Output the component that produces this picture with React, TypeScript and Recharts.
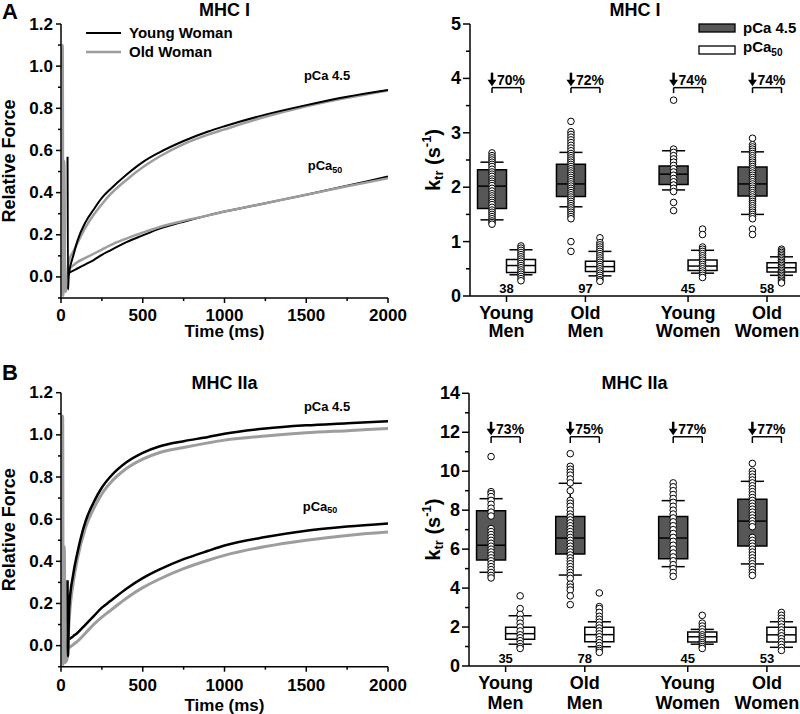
import React from "react";
import {
  ComposedChart,
  Line,
  Scatter,
  XAxis,
  YAxis,
  ReferenceArea,
  ReferenceLine,
  Legend,
} from "recharts";

const FONT = "'Liberation Sans', Arial, Helvetica, sans-serif";
const INK = "#000000";
const GREY = "#9d9d9d";
const BOX_FILL = "#575757";

// ── Force traces ──

const TRACE_T = [50, 75, 100, 150, 200, 250, 300, 400, 500, 600, 750, 900, 1000, 1250, 1500, 1750, 2000];

const A_YOUNG_45 = [0.02, 0.1, 0.17, 0.26, 0.32, 0.375, 0.415, 0.485, 0.545, 0.59, 0.645, 0.69, 0.715, 0.77, 0.815, 0.855, 0.887];
const A_OLD_45 = [0.08, 0.12, 0.16, 0.235, 0.295, 0.345, 0.39, 0.46, 0.52, 0.57, 0.63, 0.675, 0.7, 0.76, 0.81, 0.85, 0.885];
const A_YOUNG_50 = [0.02, 0.03, 0.04, 0.06, 0.08, 0.105, 0.125, 0.165, 0.197, 0.228, 0.262, 0.292, 0.31, 0.35, 0.39, 0.433, 0.476];
const A_OLD_50 = [0.04, 0.055, 0.07, 0.09, 0.11, 0.13, 0.15, 0.182, 0.21, 0.236, 0.266, 0.292, 0.31, 0.35, 0.39, 0.43, 0.468];

const B_YOUNG_45 = [0.18, 0.34, 0.44, 0.59, 0.68, 0.75, 0.8, 0.87, 0.915, 0.945, 0.97, 0.99, 1.005, 1.03, 1.045, 1.055, 1.065];
const B_OLD_45 = [0.12, 0.3, 0.41, 0.56, 0.65, 0.72, 0.77, 0.84, 0.885, 0.915, 0.94, 0.962, 0.975, 0.995, 1.01, 1.02, 1.03];
const B_YOUNG_50 = [0.03, 0.045, 0.06, 0.1, 0.14, 0.18, 0.21, 0.27, 0.32, 0.36, 0.41, 0.45, 0.475, 0.515, 0.545, 0.565, 0.58];
const B_OLD_50 = [-0.01, 0.005, 0.02, 0.06, 0.1, 0.135, 0.165, 0.225, 0.275, 0.315, 0.365, 0.405, 0.428, 0.47, 0.5, 0.523, 0.539];

// release/restretch artefacts at the start of each record
const A_YOUNG_SPIKE_T = [40, 43, 47];
const A_YOUNG_SPIKE = [0.57, -0.06, 0.0];
const A_OLD_SPIKE_T = [2, 10, 14, 20, 26, 36, 44];
const A_OLD_SPIKE = [0.99, 1.1, -0.09, 0.55, -0.07, -0.05, 0.06];
const B_YOUNG_SPIKE_T = [40, 43, 47];
const B_YOUNG_SPIKE = [0.31, -0.05, 0.1];
const B_OLD_SPIKE_T = [2, 10, 14, 20, 26, 38, 44];
const B_OLD_SPIKE = [1.0, 1.09, -0.09, 0.47, -0.08, -0.06, 0.03];

const TIME_TICKS = [0, 250, 500, 750, 1000, 1250, 1500, 1750, 2000];
const FORCE_TICKS = [-0.1, 0, 0.1, 0.2, 0.3, 0.4, 0.5, 0.6, 0.7, 0.8, 0.9, 1.0, 1.1, 1.2];

// ── ktr box plots ──

const GROUP_X = [1, 2, 3.3, 4.3];
const GROUP_LABELS = [["Young", "Men"], ["Old", "Men"], ["Young", "Women"], ["Old", "Women"]];

// [lower cap, q1, median, q3, upper cap]
const A_BOX_45 = [
  [1.4, 1.61, 2.02, 2.32, 2.46],
  [1.64, 1.83, 2.06, 2.42, 2.64],
  [1.95, 2.05, 2.24, 2.39, 2.67],
  [1.5, 1.84, 2.06, 2.37, 2.65],
];
const A_BOX_50 = [
  [0.39, 0.43, 0.56, 0.67, 0.85],
  [0.37, 0.45, 0.54, 0.64, 0.82],
  [0.42, 0.47, 0.55, 0.66, 0.84],
  [0.38, 0.44, 0.52, 0.61, 0.72],
];
const A_DOTS_45 = [
  [2.63, 2.58, 2.54, 2.5, 2.46, 2.42, 2.38, 2.33, 2.28, 2.24, 2.2, 2.15, 2.11, 2.07, 2.03, 1.98, 1.93, 1.88, 1.84, 1.8, 1.76, 1.72, 1.68, 1.63, 1.58, 1.54, 1.5, 1.46, 1.42, 1.38, 1.35, 1.32],
  [3.21, 3.02, 2.97, 2.92, 2.87, 2.82, 2.77, 2.72, 2.67, 2.62, 2.58, 2.54, 2.5, 2.46, 2.42, 2.38, 2.34, 2.3, 2.26, 2.22, 2.18, 2.14, 2.1, 2.06, 2.02, 1.98, 1.94, 1.9, 1.86, 1.82, 1.78, 1.74, 1.7, 1.66, 1.62, 1.58, 1.54, 1.5, 1.46, 1.42, 1.0, 0.82],
  [3.6, 2.7, 2.64, 2.58, 2.52, 2.46, 2.4, 2.34, 2.28, 2.22, 2.16, 2.1, 2.04, 1.98, 1.92, 1.72, 1.57],
  [2.9, 2.78, 2.74, 2.7, 2.66, 2.62, 2.58, 2.54, 2.5, 2.46, 2.42, 2.38, 2.34, 2.3, 2.26, 2.22, 2.18, 2.14, 2.1, 2.06, 2.02, 1.98, 1.94, 1.9, 1.86, 1.82, 1.78, 1.74, 1.7, 1.66, 1.62, 1.58, 1.54, 1.5, 1.46, 1.42, 1.23, 1.13],
];
const A_DOTS_50 = [
  [0.92, 0.88, 0.84, 0.8, 0.76, 0.72, 0.68, 0.64, 0.6, 0.56, 0.52, 0.48, 0.44, 0.4, 0.36, 0.32, 0.28],
  [1.07, 0.98, 0.94, 0.9, 0.86, 0.82, 0.78, 0.74, 0.7, 0.66, 0.62, 0.58, 0.54, 0.5, 0.46, 0.42, 0.38, 0.34, 0.3, 0.27],
  [1.23, 1.13, 0.9, 0.86, 0.82, 0.78, 0.74, 0.7, 0.66, 0.62, 0.58, 0.54, 0.5, 0.46, 0.42, 0.38, 0.34],
  [0.86, 0.83, 0.8, 0.77, 0.74, 0.71, 0.68, 0.65, 0.62, 0.59, 0.56, 0.53, 0.5, 0.47, 0.44, 0.41, 0.38, 0.35, 0.32, 0.29, 0.26, 0.24],
];
const A_N = ["38", "97", "45", "58"];
const A_DROP = ["70%", "72%", "74%", "74%"];

const B_BOX_45 = [
  [4.81, 5.44, 6.2, 7.97, 8.59],
  [4.67, 5.75, 6.57, 7.67, 9.38],
  [5.1, 5.51, 6.57, 7.67, 8.49],
  [5.24, 6.16, 7.44, 8.56, 9.48],
];
const B_BOX_50 = [
  [1.12, 1.37, 1.66, 1.99, 2.58],
  [0.99, 1.25, 1.61, 1.99, 2.27],
  [1.12, 1.23, 1.5, 1.75, 1.88],
  [0.96, 1.23, 1.6, 1.99, 2.27],
];
const B_DOTS_45 = [
  [10.75, 8.95, 8.85, 8.7, 8.5, 8.3, 8.1, 7.9, 7.7, 7.05, 6.9, 6.75, 6.6, 6.45, 6.3, 6.15, 6.0, 5.85, 5.7, 5.55, 5.4, 5.25, 5.1, 4.95, 4.8, 4.65, 4.52],
  [10.9, 10.25, 10.1, 9.95, 9.8, 9.6, 9.4, 9.0, 8.5, 8.35, 8.2, 8.0, 7.8, 7.65, 7.5, 7.35, 7.2, 7.05, 6.9, 6.75, 6.6, 6.45, 6.3, 6.15, 6.0, 5.85, 5.7, 5.55, 5.4, 5.25, 5.1, 4.95, 4.8, 4.65, 4.5, 4.2, 4.05, 3.9, 3.6, 3.15],
  [9.4, 9.2, 9.0, 8.8, 8.6, 8.4, 8.2, 8.0, 7.8, 7.6, 7.4, 7.2, 7.0, 6.8, 6.6, 6.4, 6.2, 6.0, 5.8, 5.6, 5.4, 5.2, 5.0, 4.8, 4.6],
  [10.4, 10.0, 9.85, 9.7, 9.55, 9.4, 9.25, 9.1, 8.95, 8.8, 8.65, 8.5, 8.35, 8.2, 8.05, 7.9, 7.75, 7.6, 7.45, 7.3, 7.15, 6.6, 6.45, 6.3, 6.15, 6.0, 5.85, 5.7, 5.55, 5.4, 5.25, 5.1, 4.95, 4.8, 4.65],
];
const B_DOTS_50 = [
  [3.6, 2.95, 2.65, 2.4, 2.2, 2.0, 1.8, 1.6, 1.45, 1.3, 1.15, 1.0, 0.9],
  [3.75, 3.05, 2.95, 2.75, 2.55, 2.4, 2.25, 2.1, 1.95, 1.8, 1.65, 1.5, 1.35, 1.2, 1.05, 0.9, 0.8, 0.7],
  [2.6, 2.2, 2.05, 1.9, 1.75, 1.6, 1.5, 1.4, 1.3, 1.2, 1.1, 1.0, 0.9],
  [2.75, 2.6, 2.45, 2.3, 2.15, 2.0, 1.85, 1.7, 1.55, 1.4, 1.25, 1.1, 0.95, 0.8],
];
const B_N = ["35", "78", "45", "53"];
const B_DROP = ["73%", "75%", "77%", "77%"];

const A_KTR_TICKS = [0, 0.5, 1, 1.5, 2, 2.5, 3, 3.5, 4, 4.5, 5];
const B_KTR_TICKS = [0, 1, 2, 3, 4, 5, 6, 7, 8, 9, 10, 11, 12, 13, 14];

// box geometry in x-axis units
const BOX_W = 0.367;
const HALF = BOX_W / 2;
const CAP = 0.146;
const GROUP_DOMAIN = [0.5376, 4.718];

const trace = (spikeT: number[], spikeV: number[], vals: number[]) => [
  ...spikeT.map((t, i) => ({ t, v: spikeV[i] })),
  ...TRACE_T.map((t, i) => ({ t, v: vals[i] })),
];

const dotsAt = (groups: number[][], off: number) =>
  groups.flatMap((vals, i) => vals.map((y) => ({ x: GROUP_X[i] + off, y })));

const bold = { fontFamily: FONT, fontWeight: "bold" as const, fill: INK };

// ── ticks and titles ──

function TimeTick({ x, y, payload, dy }: any) {
  const major = payload.value % 500 === 0;
  return (
    <g>
      <line x1={x} y1={y} x2={x} y2={y + (major ? 5 : 3)} stroke={INK} strokeWidth={1.5} />
      {major && (
        <text x={x} y={y + dy} textAnchor="middle" dominantBaseline="central" fontSize={17} {...bold}>
          {payload.value}
        </text>
      )}
    </g>
  );
}

function ForceTick({ x, y, payload }: any) {
  const k = Math.round(payload.value * 10);
  const major = k >= 0 && k % 2 === 0;
  return (
    <g>
      <line x1={x - (major ? 5 : 3)} y1={y} x2={x} y2={y} stroke={INK} strokeWidth={1.5} />
      {major && (
        <text x={x - 8} y={y} textAnchor="end" dominantBaseline="central" fontSize={17} {...bold}>
          {(k / 10).toFixed(1)}
        </text>
      )}
    </g>
  );
}

function KtrTick({ x, y, payload, every }: any) {
  const major = Math.abs(payload.value % every) < 1e-6;
  return (
    <g>
      <line x1={x - (major ? 7 : 4)} y1={y} x2={x} y2={y} stroke={INK} strokeWidth={1.5} />
      {major && (
        <text x={x - 9} y={y} textAnchor="end" dominantBaseline="central" fontSize={18} {...bold}>
          {payload.value}
        </text>
      )}
    </g>
  );
}

function GroupTick({ x, y, payload, dy1, dy2 }: any) {
  const i = GROUP_X.indexOf(payload.value);
  const lines = GROUP_LABELS[i] || ["", ""];
  return (
    <g>
      <line x1={x} y1={y} x2={x} y2={y + 6} stroke={INK} strokeWidth={1.5} />
      <text x={x} y={y + dy1} textAnchor="middle" dominantBaseline="central" fontSize={18} {...bold}>
        {lines[0]}
      </text>
      <text x={x} y={y + dy2} textAnchor="middle" dominantBaseline="central" fontSize={18} {...bold}>
        {lines[1]}
      </text>
    </g>
  );
}

function TimeTitle({ viewBox, dy }: any) {
  return (
    <text x={viewBox.x + viewBox.width / 2} y={viewBox.y + dy} textAnchor="middle" dominantBaseline="central" fontSize={17} {...bold}>
      Time (ms)
    </text>
  );
}

function ForceTitle({ viewBox }: any) {
  const x = viewBox.x + 9;
  const y = viewBox.y + viewBox.height / 2;
  return (
    <text x={x} y={y} transform={`rotate(-90, ${x}, ${y})`} textAnchor="middle" dominantBaseline="central" fontSize={18} {...bold}>
      Relative Force
    </text>
  );
}

function KtrTitle({ viewBox }: any) {
  const x = viewBox.x + 33;
  const y = viewBox.y + viewBox.height / 2;
  return (
    <text x={x} y={y} transform={`rotate(-90, ${x}, ${y})`} textAnchor="middle" dominantBaseline="central" fontSize={20} {...bold}>
      k
      <tspan fontSize={13} dy={5}>tr</tspan>
      <tspan dy={-5}> (s</tspan>
      <tspan fontSize={13} dy={-7}>-1</tspan>
      <tspan dy={7}>)</tspan>
    </text>
  );
}

// ── marks drawn through scatter shapes ──

const WhiteDot = (p: any) => <circle cx={p.cx} cy={p.cy} r={3.3} fill="#fff" stroke={INK} strokeWidth={1} />;

const DropNote = (p: any) => {
  const { cx, cy, payload } = p;
  return (
    <g>
      <line x1={cx} y1={cy - 15} x2={cx} y2={cy - 6} stroke={INK} strokeWidth={2.5} />
      <path d={`M${cx - 4.5},${cy - 8} L${cx + 4.5},${cy - 8} L${cx},${cy - 1.5} Z`} fill={INK} />
      <text x={cx + 5} y={cy - 7.5} dominantBaseline="central" fontSize={14} {...bold}>
        {payload.text}
      </text>
    </g>
  );
};

const CountNote = (p: any) => (
  <text x={p.cx} y={p.cy - 8} textAnchor="middle" dominantBaseline="central" fontSize={13} {...bold}>
    {p.payload.text}
  </text>
);

const TraceNote = (p: any) => (
  <text x={p.cx} y={p.cy} textAnchor="middle" dominantBaseline="central" fontSize={13} {...bold}>
    {p.payload.text}
    {p.payload.sub && (
      <tspan fontSize={9} dy={4}>
        {p.payload.sub}
      </tspan>
    )}
  </text>
);

// ── legends ──

function WomenLegend() {
  const row = (color: string, w: number, text: string) => (
    <div style={{ display: "flex", alignItems: "center", height: 18.4 }}>
      <svg width={35} height={6} style={{ marginRight: 8 }}>
        <line x1={0} y1={3} x2={35} y2={3} stroke={color} strokeWidth={w} />
      </svg>
      <span style={{ fontFamily: FONT, fontWeight: "bold", fontSize: 15, lineHeight: "18px" }}>{text}</span>
    </div>
  );
  return (
    <div>
      {row(INK, 2, "Young Woman")}
      {row(GREY, 2.5, "Old Woman")}
    </div>
  );
}

function PcaLegend() {
  const row = (fill: string, text: React.ReactNode) => (
    <div style={{ display: "flex", alignItems: "center", height: 22 }}>
      <svg width={38} height={10} style={{ marginRight: 7 }}>
        <rect x={1} y={1} width={36} height={8} fill={fill} stroke={INK} strokeWidth={1.3} />
      </svg>
      <span style={{ fontFamily: FONT, fontWeight: "bold", fontSize: 15, lineHeight: "18px" }}>{text}</span>
    </div>
  );
  return (
    <div>
      {row(BOX_FILL, "pCa 4.5")}
      {row("#fff", (
        <>
          pCa<sub style={{ fontSize: 10 }}>50</sub>
        </>
      ))}
    </div>
  );
}

// ── panels ──

const axisStyle = { stroke: INK, strokeWidth: 1.5 };

function TraceChart({ cfg }: any) {
  const W = 420;
  const { top, height, marginTop, axisHeight, tickDy, titleDy, title, titleY, young45, old45, young50, old50, notes, legend, width } = cfg;
  return (
    <div style={{ position: "absolute", left: 0, top, width: W, height }}>
      <ComposedChart width={W} height={height} margin={{ top: marginTop, right: 32, bottom: 0, left: 0 }}>
        <XAxis
          type="number"
          dataKey="t"
          domain={[0, 2000]}
          ticks={TIME_TICKS}
          interval={0}
          allowDataOverflow
          height={axisHeight}
          tickSize={0}
          tickMargin={0}
          axisLine={axisStyle}
          tick={(p: any) => <TimeTick {...p} dy={tickDy} />}
          label={{ content: (p: any) => <TimeTitle {...p} dy={titleDy} /> }}
        />
        <YAxis
          type="number"
          dataKey="v"
          domain={[-0.1, 1.2]}
          ticks={FORCE_TICKS}
          interval={0}
          allowDataOverflow
          width={61}
          tickSize={0}
          tickMargin={0}
          axisLine={axisStyle}
          tick={ForceTick}
          label={{ content: ForceTitle }}
        />
        {legend && (
          <Legend
            layout="vertical"
            align="center"
            verticalAlign="middle"
            content={() => <WomenLegend />}
            wrapperStyle={{ left: 86, top: 24, width: 200, height: 40 }}
          />
        )}
        <Line data={young50} dataKey="v" type="monotone" stroke={INK} strokeWidth={width} dot={false} activeDot={false} isAnimationActive={false} />
        <Line data={old50} dataKey="v" type="monotone" stroke={GREY} strokeWidth={width + 0.5} dot={false} activeDot={false} isAnimationActive={false} />
        <Line data={old45} dataKey="v" type="monotone" stroke={GREY} strokeWidth={width + 0.5} dot={false} activeDot={false} isAnimationActive={false} />
        <Line data={young45} dataKey="v" type="monotone" stroke={INK} strokeWidth={width} dot={false} activeDot={false} isAnimationActive={false} />
        <Scatter data={notes} shape={TraceNote} isAnimationActive={false} />
      </ComposedChart>
      <div
        style={{
          position: "absolute",
          left: 61,
          width: 327,
          top: titleY - 11,
          textAlign: "center",
          fontFamily: FONT,
          fontWeight: "bold",
          fontSize: 18,
          lineHeight: "22px",
        }}
      >
        {title}
      </div>
    </div>
  );
}

function KtrChart({ cfg }: any) {
  const W = 400;
  const { top, height, marginTop, axisHeight, yWidth, yMax, ticks, every, box45, box50, dots45, dots50, ns, drops, bracketTop, bracketLeg, title, titleY, legend, dy1, dy2 } = cfg;

  const boxes = [
    ...box45.map((b: number[], i: number) => ({ b, c: GROUP_X[i] - HALF, fill: BOX_FILL })),
    ...box50.map((b: number[], i: number) => ({ b, c: GROUP_X[i] + HALF, fill: "#fff" })),
  ];
  const seg = (x1: number, y1: number, x2: number, y2: number, key: string) => (
    <ReferenceLine key={key} segment={[{ x: x1, y: y1 }, { x: x2, y: y2 }]} stroke={INK} strokeWidth={1.5} />
  );

  return (
    <div style={{ position: "absolute", left: 400, top, width: W, height }}>
      <ComposedChart width={W} height={height} margin={{ top: marginTop, right: 0, bottom: 0, left: 0 }}>
        <XAxis
          type="number"
          dataKey="x"
          domain={GROUP_DOMAIN}
          ticks={GROUP_X}
          interval={0}
          allowDataOverflow
          height={axisHeight}
          tickSize={0}
          tickMargin={0}
          axisLine={axisStyle}
          tick={(p: any) => <GroupTick {...p} dy1={dy1} dy2={dy2} />}
        />
        <YAxis
          type="number"
          dataKey="y"
          domain={[0, yMax]}
          ticks={ticks}
          interval={0}
          allowDataOverflow
          width={yWidth}
          tickSize={0}
          tickMargin={0}
          axisLine={axisStyle}
          tick={(p: any) => <KtrTick {...p} every={every} />}
          label={{ content: KtrTitle }}
        />
        {legend && (
          <Legend
            layout="vertical"
            align="center"
            verticalAlign="middle"
            content={() => <PcaLegend />}
            wrapperStyle={{ left: 298, top: 17, width: 110, height: 44 }}
          />
        )}
        {boxes.map(({ b, c, fill }, i) => (
          <ReferenceArea
            key={"box" + i}
            x1={c - HALF}
            x2={c + HALF}
            y1={b[1]}
            y2={b[3]}
            fill={fill}
            fillOpacity={1}
            stroke={INK}
            strokeWidth={1.5}
          />
        ))}
        {boxes.flatMap(({ b, c }, i) => [
          seg(c, b[3], c, b[4], "wu" + i),
          seg(c, b[0], c, b[1], "wl" + i),
          seg(c - CAP, b[4], c + CAP, b[4], "cu" + i),
          seg(c - CAP, b[0], c + CAP, b[0], "cl" + i),
          seg(c - HALF, b[2], c + HALF, b[2], "md" + i),
        ])}
        {GROUP_X.flatMap((g, i) => [
          seg(g - HALF, bracketTop, g + HALF, bracketTop, "bt" + i),
          seg(g - HALF, bracketTop, g - HALF, bracketLeg, "bl" + i),
          seg(g + HALF, bracketTop, g + HALF, bracketLeg, "br" + i),
        ])}
        <Scatter data={dotsAt(dots45, -HALF)} shape={WhiteDot} isAnimationActive={false} />
        <Scatter data={dotsAt(dots50, HALF)} shape={WhiteDot} isAnimationActive={false} />
        <Scatter
          data={GROUP_X.map((g, i) => ({ x: g - HALF, y: bracketTop, text: drops[i] }))}
          shape={DropNote}
          isAnimationActive={false}
        />
        <Scatter
          data={GROUP_X.map((g, i) => ({ x: g, y: 0, text: ns[i] }))}
          shape={CountNote}
          isAnimationActive={false}
        />
      </ComposedChart>
      <div
        style={{
          position: "absolute",
          left: yWidth,
          width: W - yWidth,
          top: titleY - 11,
          textAlign: "center",
          fontFamily: FONT,
          fontWeight: "bold",
          fontSize: 18,
          lineHeight: "22px",
        }}
      >
        {title}
      </div>
    </div>
  );
}

const TRACE_A = {
  top: 0,
  height: 340,
  marginTop: 24,
  axisHeight: 42,
  tickDy: 17,
  titleDy: 33,
  title: "MHC I",
  titleY: 10,
  width: 2,
  legend: true,
  young45: trace(A_YOUNG_SPIKE_T, A_YOUNG_SPIKE, A_YOUNG_45),
  old45: trace(A_OLD_SPIKE_T, A_OLD_SPIKE, A_OLD_45),
  young50: trace([], [], A_YOUNG_50),
  old50: trace([], [], A_OLD_50),
  notes: [
    { t: 1627, v: 0.958, text: "pCa 4.5" },
    { t: 1615, v: 0.527, text: "pCa", sub: "50" },
  ],
};

const TRACE_B = {
  top: 340,
  height: 374,
  marginTop: 52.7,
  axisHeight: 47.3,
  tickDy: 18.3,
  titleDy: 38.3,
  title: "MHC IIa",
  titleY: 43,
  width: 2.5,
  legend: false,
  young45: trace(B_YOUNG_SPIKE_T, B_YOUNG_SPIKE, B_YOUNG_45),
  old45: trace(B_OLD_SPIKE_T, B_OLD_SPIKE, B_OLD_45),
  young50: trace([], [], B_YOUNG_50),
  old50: trace([], [], B_OLD_50),
  notes: [
    { t: 1627, v: 1.133, text: "pCa 4.5" },
    { t: 1584, v: 0.662, text: "pCa", sub: "50" },
  ],
};

const KTR_A = {
  top: 0,
  height: 340,
  marginTop: 24,
  axisHeight: 44,
  yWidth: 70,
  yMax: 5,
  ticks: A_KTR_TICKS,
  every: 1,
  box45: A_BOX_45,
  box50: A_BOX_50,
  dots45: A_DOTS_45,
  dots50: A_DOTS_50,
  ns: A_N,
  drops: A_DROP,
  bracketTop: 3.83,
  bracketLeg: 3.73,
  title: "MHC I",
  titleY: 10,
  legend: true,
  dy1: 17,
  dy2: 35,
};

const KTR_B = {
  top: 340,
  height: 374,
  marginTop: 53.3,
  axisHeight: 48,
  yWidth: 69,
  yMax: 14,
  ticks: B_KTR_TICKS,
  every: 2,
  box45: B_BOX_45,
  box50: B_BOX_50,
  dots45: B_DOTS_45,
  dots50: B_DOTS_50,
  ns: B_N,
  drops: B_DROP,
  bracketTop: 11.77,
  bracketLeg: 11.45,
  title: "MHC IIa",
  titleY: 42.7,
  legend: false,
  dy1: 17,
  dy2: 37,
};

const letter = (text: string, top: number) => (
  <div
    style={{
      position: "absolute",
      left: 2,
      top,
      fontFamily: FONT,
      fontWeight: "bold",
      fontSize: 22,
      lineHeight: "24px",
    }}
  >
    {text}
  </div>
);

export default function App() {
  return (
    <div style={{ position: "absolute", left: 0, top: 0, width: 800, height: 714, background: "#fff", overflow: "hidden" }}>
      <TraceChart cfg={TRACE_A} />
      <TraceChart cfg={TRACE_B} />
      <KtrChart cfg={KTR_A} />
      <KtrChart cfg={KTR_B} />
      {letter("A", 0)}
      {letter("B", 361)}
    </div>
  );
}
